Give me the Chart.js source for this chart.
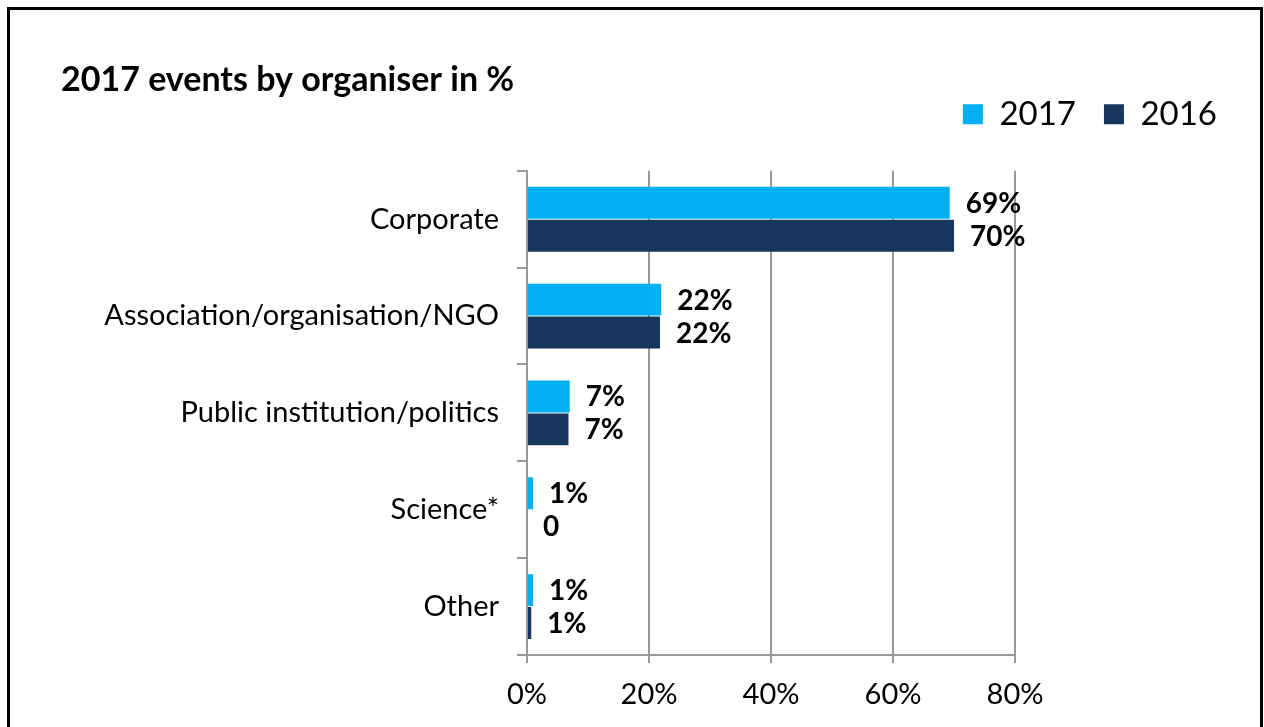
<!DOCTYPE html>
<html>
<head>
<meta charset="utf-8">
<script src="https://cdn.jsdelivr.net/npm/chart.js@4"></script>
<style>
  body { margin: 0; background: #fff; overflow: hidden; }
  #frame { position: absolute; left: 7px; top: 7px; width: 1250px; height: 800px; border: 3px solid #000; box-sizing: content-box; }
  #chart { position: absolute; left: 0; top: 0; }
</style>
</head>
<body>
<div id="frame"></div>
<canvas id="chart" width="1264" height="727"></canvas>
<script>
// dados
const categorias = ['Corporate', 'Association/organisation/NGO', 'Public institution/politics', 'Science*', 'Other'];
const valores2017 = [69.3, 22.0, 7.0, 1.0, 1.0];
const valores2016 = [70.0, 21.8, 6.8, 0, 0.7];
const ticksX = [0, 20, 40, 60, 80];

const cor2017 = '#00B0F0';
const cor2016 = '#17375E';
const fonte = 'Lato';

// rótulos de valor ao lado das barras
const rotulosPlugin = {
    id: 'rotulos',
    afterDatasetsDraw(chart) {
        const ctx = chart.ctx;
        ctx.save();
        ctx.font = 'bold 28px ' + fonte;
        ctx.fillStyle = '#000';
        ctx.textBaseline = 'middle';
        ctx.textAlign = 'left';
        chart.data.datasets.forEach((ds, i) => {
            chart.getDatasetMeta(i).data.forEach((bar, j) => {
                const v = ds.data[j];
                const txt = v === 0 ? '0' : Math.round(v) + '%';
                ctx.fillText(txt, bar.x + 16, bar.y + 1);
            });
        });
        ctx.restore();
    }
};

new Chart(document.getElementById('chart').getContext('2d'), {
    type: 'bar',
    data: {
        labels: categorias,
        datasets: [
            { label: '2017', data: valores2017, backgroundColor: cor2017, categoryPercentage: 0.68, barPercentage: 0.97 },
            { label: '2016', data: valores2016, backgroundColor: cor2016, categoryPercentage: 0.68, barPercentage: 0.97 }
        ]
    },
    options: {
        indexAxis: 'y',
        responsive: false,
        animation: false,
        layout: { padding: { left: 61, right: 19, top: 0, bottom: 0 } },
        plugins: {
            title: {
                display: true,
                text: '2017 events by organiser in %',
                align: 'start',
                color: '#000',
                font: { family: fonte, size: 34, weight: 'bold' },
                padding: { top: 60, bottom: -31 }
            },
            legend: {
                display: true,
                align: 'end',
                labels: {
                    color: '#000',
                    font: { family: fonte, size: 33 },
                    boxWidth: 20,
                    boxHeight: 20,
                    padding: 28
                }
            },
            tooltip: { enabled: false }
        },
        scales: {
            x: {
                min: 0,
                max: 80,
                afterBuildTicks: s => { s.ticks = ticksX.map(v => ({ value: v })); },
                afterFit: s => { s.height = 72; },
                ticks: {
                    color: '#000',
                    font: { family: fonte, size: 29 },
                    padding: 14,
                    callback: v => v + '%'
                },
                grid: { color: '#999', lineWidth: 2, tickLength: 8 },
                border: { color: '#999', width: 2 }
            },
            y: {
                afterFit: s => { s.width = 466; },
                ticks: {
                    color: '#000',
                    font: { family: fonte, size: 29 },
                    padding: 18
                },
                grid: { drawOnChartArea: false, color: '#999', lineWidth: 2, tickLength: 10 },
                border: { color: '#999', width: 2 }
            },
            direita: {
                type: 'linear',
                position: 'right',
                display: true,
                afterFit: s => { s.width = 230; },
                ticks: { display: false },
                grid: { display: false },
                border: { display: false }
            },
            topo: {
                type: 'linear',
                axis: 'x',
                position: 'top',
                display: true,
                afterFit: s => { s.height = 30; },
                ticks: { display: false },
                grid: { display: false },
                border: { display: false }
            }
        }
    },
    plugins: [rotulosPlugin]
});
</script>
</body>
</html>
